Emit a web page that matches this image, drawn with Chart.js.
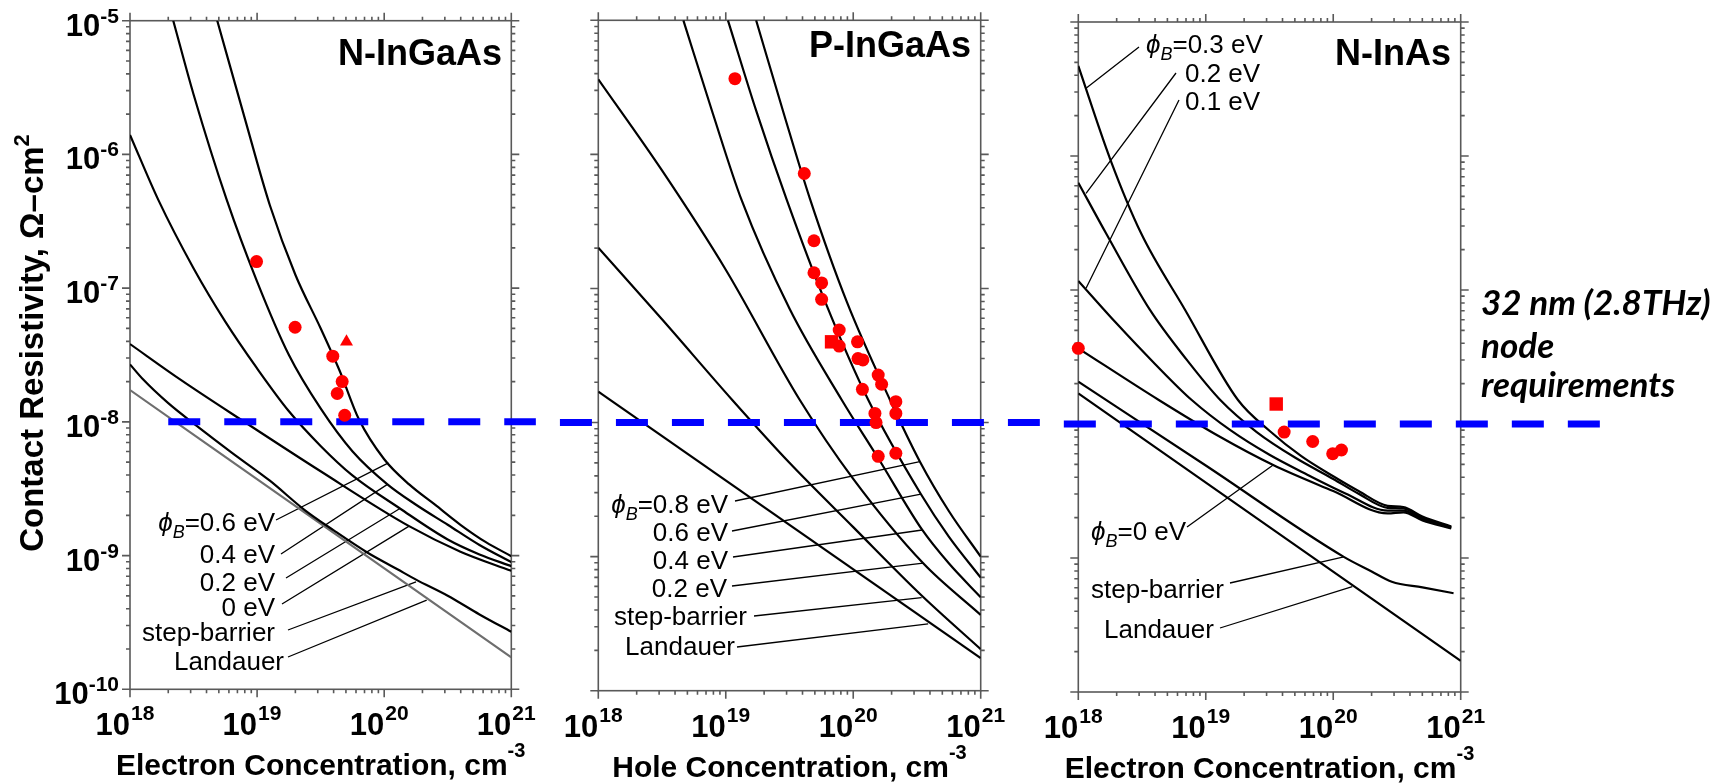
<!DOCTYPE html>
<html>
<head>
<meta charset="utf-8">
<title>Contact resistivity vs. doping</title>
<script src="https://cdn.jsdelivr.net/npm/chart.js@4.4.1/dist/chart.umd.min.js"></script>
<style>
  html, body { margin: 0; padding: 0; background: #ffffff; }
  #stage { position: relative; width: 1730px; height: 783px; overflow: hidden; }
  #stage canvas { position: absolute; left: 0; top: 0; }
</style>
</head>
<body>
<div id="stage">
  <canvas id="panelN" width="1730" height="783"></canvas>
  <canvas id="panelP" width="1730" height="783"></canvas>
  <canvas id="panelAs" width="1730" height="783"></canvas>
</div>
<script>
// Axis tick labels (decades)
var xTickValues = [1e18, 1e19, 1e20, 1e21];
var xTickExps = ['18', '19', '20', '21'];
var yTickValues = [1e-5, 1e-6, 1e-7, 1e-8, 1e-9, 1e-10];
var yTickExps = ['-5', '-6', '-7', '-8', '-9', '-10'];

// 32 nm node requirement, ohm-cm2
var nodeLimit = 1e-8;

// N-InGaAs curves [n (cm-3), rho (ohm-cm2)]
var nIngaasPhi06 = [[4.86e18, 1.0e-5], [7.94e18, 1.91e-6], [1.26e19, 4.17e-7], [2.0e19, 1.26e-7], [3.16e19, 5.01e-8],
    [4.47e19, 2.40e-8], [6.31e19, 1.05e-8], [1.0e20, 5.25e-9], [1.58e20, 3.39e-9], [2.51e20, 2.40e-9],
    [3.98e20, 1.70e-9], [6.31e20, 1.26e-9], [1.0e21, 9.9e-10]];
var nIngaasPhi04 = [[2.19e18, 1.0e-5], [3.16e18, 2.82e-6], [5.77e18, 4.57e-7], [1.0e19, 1.12e-7], [1.78e19, 3.16e-8],
    [3.16e19, 1.26e-8], [5.62e19, 6.03e-9], [1.06e20, 3.41e-9], [1.78e20, 2.40e-9], [3.16e20, 1.70e-9],
    [5.62e20, 1.20e-9], [1.0e21, 8.93e-10]];
var nIngaasPhi02 = [[1.0e18, 1.40e-6], [1.67e18, 4.57e-7], [3.16e18, 1.41e-7], [5.62e18, 5.62e-8], [1.0e19, 2.51e-8],
    [1.78e19, 1.20e-8], [3.16e19, 6.61e-9], [5.62e19, 3.98e-9], [1.33e20, 2.25e-9], [3.16e20, 1.32e-9],
    [5.62e20, 1.02e-9], [1.0e21, 8.34e-10]];
var nIngaasPhi00 = [[1.0e18, 3.82e-8], [2.51e18, 2.06e-8], [7.94e18, 1.0e-8], [3.16e19, 4.27e-9], [1.57e20, 1.66e-9],
    [3.98e20, 1.07e-9], [1.0e21, 7.69e-10]];
var nIngaasStep = [[1.0e18, 2.69e-8], [1.26e18, 2.09e-8], [2.0e18, 1.38e-8], [3.35e18, 9.33e-9], [6.31e18, 5.89e-9],
    [1.26e19, 3.63e-9], [2.34e19, 2.21e-9], [3.98e19, 1.55e-9], [7.41e19, 1.05e-9], [1.26e20, 7.94e-10],
    [1.78e20, 6.61e-10], [3.16e20, 5.01e-10], [5.62e20, 3.63e-10], [1.0e21, 2.69e-10]];
var nIngaasLandauer = [[1.0e18, 1.73e-8], [1.0e21, 1.73e-10]];
var nIngaasMeasured = [[9.9e18, 1.58e-7], [1.99e19, 5.1e-8], [3.94e19, 3.1e-8], [4.67e19, 2.0e-8], [4.27e19, 1.63e-8],
    [4.89e19, 1.12e-8]];
var nIngaasMeasuredTri = [[5.05e19, 3.97e-8]];

// P-InGaAs curves
var pIngaasPhi08 = [[1.73e19, 1.0e-5], [2.82e19, 2.09e-6], [4.57e19, 4.68e-7], [8.91e19, 7.94e-8], [1.94e20, 1.48e-8],
    [3.33e20, 5.13e-9], [5.62e20, 2.19e-9], [1.0e21, 1.0e-9]];
var pIngaasPhi06 = [[1.04e19, 1.0e-5], [1.74e19, 2.09e-6], [3.01e19, 4.57e-7], [6.03e19, 7.94e-8], [1.31e20, 1.48e-8],
    [3.40e20, 2.92e-9], [5.62e20, 1.41e-9], [1.0e21, 6.97e-10]];
var pIngaasPhi04 = [[4.65e18, 1.0e-5], [7.94e18, 2.0e-6], [1.33e19, 4.57e-7], [3.16e19, 7.08e-8], [8.11e19, 1.48e-8],
    [1.58e20, 5.37e-9], [3.48e20, 1.58e-9], [5.62e20, 8.91e-10], [1.0e21, 4.98e-10]];
var pIngaasPhi02 = [[1.0e18, 3.63e-6], [3.16e18, 7.59e-7], [1.0e19, 1.38e-7], [3.80e19, 1.48e-8], [1.0e20, 3.80e-9],
    [3.54e20, 8.91e-10], [1.0e21, 3.67e-10]];
var pIngaasStep = [[1.0e18, 2.01e-7], [3.16e18, 5.89e-8], [1.12e19, 1.48e-8], [3.16e19, 5.01e-9], [1.0e20, 1.66e-9],
    [3.44e20, 5.13e-10], [1.0e21, 2.04e-10]];
var pIngaasLandauer = [[1.0e18, 1.70e-8], [1.0e21, 1.75e-10]];
var pIngaasMeasured = [[1.18e19, 3.67e-6], [4.13e19, 7.2e-7], [4.92e19, 2.27e-7], [4.92e19, 1.31e-7], [5.65e19, 1.10e-7],
    [5.65e19, 8.3e-8], [7.76e19, 4.9e-8], [7.76e19, 3.72e-8], [1.08e20, 4.0e-8], [1.09e20, 3.0e-8],
    [1.19e20, 2.93e-8], [1.57e20, 2.26e-8], [1.67e20, 1.93e-8], [1.18e20, 1.77e-8], [2.16e20, 1.43e-8],
    [2.16e20, 1.17e-8], [1.48e20, 1.17e-8], [1.51e20, 1.0e-8], [1.57e20, 5.6e-9], [2.16e20, 5.9e-9]];
var pIngaasMeasuredSq = [[6.76e19, 4.0e-8]];

// N-InAs curves
var nInasPhi03 = [[1.0e18, 4.70e-6], [1.79e18, 9.33e-7], [3.11e18, 2.65e-7], [6.89e18, 7.10e-8], [1.79e19, 1.51e-8],
    [3.16e19, 8.91e-9], [5.62e19, 5.75e-9], [1.0e20, 4.07e-9], [1.58e20, 3.16e-9], [2.67e20, 2.45e-9],
    [3.55e20, 2.40e-9], [5.01e20, 2.04e-9], [8.43e20, 1.72e-9]];
var nInasPhi02 = [[1.0e18, 6.32e-7], [1.65e18, 2.65e-7], [3.65e18, 7.10e-8], [7.08e18, 3.02e-8], [1.30e19, 1.51e-8],
    [2.51e19, 8.71e-9], [5.01e19, 5.62e-9], [1.0e20, 3.89e-9], [1.58e20, 3.02e-9], [2.67e20, 2.37e-9],
    [3.55e20, 2.34e-9], [5.01e20, 2.0e-9], [8.43e20, 1.70e-9]];
var nInasPhi01 = [[1.0e18, 1.17e-7], [2.0e18, 5.62e-8], [3.98e18, 2.82e-8], [7.76e18, 1.51e-8], [1.58e19, 8.91e-9],
    [3.16e19, 5.89e-9], [6.31e19, 4.17e-9], [1.26e20, 3.02e-9], [2.67e20, 2.26e-9], [3.55e20, 2.26e-9],
    [5.01e20, 1.95e-9], [8.43e20, 1.68e-9]];
var nInasPhi00 = [[1.0e18, 3.67e-8], [4.28e18, 1.51e-8], [1.26e19, 8.13e-9], [3.38e19, 4.94e-9], [1.0e20, 3.16e-9],
    [2.67e20, 2.15e-9], [3.55e20, 2.19e-9], [5.01e20, 1.91e-9], [8.43e20, 1.66e-9]];
var nInasStep = [[1.0e18, 2.07e-8], [1.0e19, 4.90e-9], [1.21e20, 1.02e-9], [2.0e20, 7.94e-10], [2.88e20, 6.65e-10],
    [5.01e20, 6.03e-10], [8.79e20, 5.46e-10]];
var nInasLandauer = [[1.0e18, 1.69e-8], [1.0e21, 1.71e-10]];
var nInasMeasured = [[1.0e18, 3.67e-8], [4.12e19, 8.7e-9], [6.9e19, 7.4e-9], [9.9e19, 6.0e-9], [1.16e20, 6.4e-9]];
var nInasMeasuredSq = [[3.57e19, 1.41e-8]];

// ---- drawing helpers ----
var SANS = '"Liberation Sans", Arial, Helvetica, sans-serif';
var AXIS_COLOR = '#595959';
var F_TICK = 'bold 31px ' + SANS;
var F_TICK_SUP = 'bold 21px ' + SANS;
var F_NOTE = '26px ' + SANS;
var F_NOTE_I = 'italic 26px ' + SANS;
var F_NOTE_SUB = 'italic 18px ' + SANS;

function toXY(points) {
    return points.map(function (p) { return { x: p[0], y: p[1] }; });
}

function curve(points, color) {
    return {
        data: toXY(points), showLine: true, borderColor: color || '#000000', borderWidth: 2.2,
        pointRadius: 0, cubicInterpolationMode: 'monotone', order: 3
    };
}

function markers(points, style, radius) {
    return {
        data: toXY(points), showLine: false, pointStyle: style, pointRadius: radius,
        backgroundColor: '#ff0000', borderColor: '#ff0000', borderWidth: 0, clip: false, order: 1
    };
}

// dashed requirement line; each panel draws its own piece
function guide(nFrom, nTo) {
    return {
        data: toXY([[nFrom, nodeLimit], [nTo, nodeLimit]]), showLine: true, borderColor: '#0000ff',
        borderWidth: 7, borderDash: [32, 24], borderCapStyle: 'butt', pointRadius: 0, clip: false, order: 2
    };
}

// text made of runs: [text, font, dy]
function textRun(ctx, runs, x, y, align) {
    var total = 0, i;
    for (i = 0; i < runs.length; i++) {
        ctx.font = runs[i][1];
        total += ctx.measureText(runs[i][0]).width;
    }
    var cx = x;
    if (align === 'right') cx = x - total;
    if (align === 'center') cx = x - total / 2;
    ctx.textAlign = 'left';
    ctx.textBaseline = 'alphabetic';
    for (i = 0; i < runs.length; i++) {
        ctx.font = runs[i][1];
        ctx.fillText(runs[i][0], cx, y + (runs[i][2] || 0));
        cx += ctx.measureText(runs[i][0]).width;
    }
}

function phi(rest) {
    return [['\u03D5', F_NOTE_I, 0], ['B', F_NOTE_SUB, 7], [rest, F_NOTE, 0]];
}

function plain(text) {
    return [[text, F_NOTE, 0]];
}

// frame with outward major/minor ticks on all four sides
function drawFrame(chart) {
    var ctx = chart.ctx, a = chart.chartArea, xs = chart.scales.x, ys = chart.scales.y;
    ctx.save();
    ctx.strokeStyle = AXIS_COLOR;
    ctx.lineWidth = 1.6;
    ctx.strokeRect(a.left, a.top, a.right - a.left, a.bottom - a.top);
    ctx.beginPath();
    var d, m, v, p, len;
    for (d = 0; d < xTickValues.length; d++) {
        for (m = 1; m < 10; m++) {
            v = xTickValues[d] * m;
            if (v > xTickValues[xTickValues.length - 1] * 1.001) break;
            p = xs.getPixelForValue(v);
            len = m === 1 ? 8 : 4;
            ctx.moveTo(p, a.bottom); ctx.lineTo(p, a.bottom + len);
            ctx.moveTo(p, a.top); ctx.lineTo(p, a.top - len);
        }
    }
    for (d = yTickValues.length - 1; d >= 0; d--) {
        for (m = 1; m < 10; m++) {
            v = yTickValues[d] * m;
            if (v > yTickValues[0] * 1.001) break;
            p = ys.getPixelForValue(v);
            len = m === 1 ? 8 : 4;
            ctx.moveTo(a.left, p); ctx.lineTo(a.left - len, p);
            ctx.moveTo(a.right, p); ctx.lineTo(a.right + len, p);
        }
    }
    ctx.stroke();
    ctx.restore();
}

function drawLeaders(chart, labels) {
    var ctx = chart.ctx, xs = chart.scales.x, ys = chart.scales.y;
    ctx.save();
    ctx.strokeStyle = '#000000';
    ctx.lineWidth = 1.3;
    ctx.beginPath();
    labels.forEach(function (l) {
        ctx.moveTo(l.from[0], l.from[1]);
        ctx.lineTo(xs.getPixelForValue(l.to[0]), ys.getPixelForValue(l.to[1]));
    });
    ctx.stroke();
    ctx.restore();
}

function drawTexts(chart, spec) {
    var ctx = chart.ctx, a = chart.chartArea, xs = chart.scales.x, ys = chart.scales.y;
    ctx.save();
    ctx.fillStyle = '#000000';

    // x tick labels: "10" ends at the tick, exponent starts there
    xTickValues.forEach(function (v, i) {
        var p = xs.getPixelForValue(v);
        textRun(ctx, [['10', F_TICK, 0]], p, a.bottom + 46, 'right');
        textRun(ctx, [[xTickExps[i], F_TICK_SUP, 0]], p + 1, a.bottom + 31, 'left');
    });

    if (spec.yLabels) {
        yTickValues.forEach(function (v, i) {
            var p = ys.getPixelForValue(v);
            textRun(ctx, [['10', F_TICK, 13], [yTickExps[i], F_TICK_SUP, 0]], a.left - 11, p + 2, 'right');
        });
        ctx.save();
        ctx.translate(32, 343);
        ctx.rotate(-Math.PI / 2);
        textRun(ctx, [['Contact Resistivity, \u03A9\u2013cm', 'bold 33px ' + SANS, 0], ['2', 'bold 22px ' + SANS, -14]], 0, 11, 'center');
        ctx.restore();
    }

    // x axis title
    textRun(ctx, [[spec.xTitle, 'bold 30px ' + SANS, 0], ['-3', 'bold 20px ' + SANS, -18]],
        (a.left + a.right) / 2, a.bottom + 86, 'center');

    // panel name
    textRun(ctx, [[spec.name, 'bold 36px ' + SANS, 0]], spec.namePos[0], spec.namePos[1], 'right');

    spec.labels.forEach(function (l) {
        textRun(ctx, l.runs, l.x, l.y, l.align);
    });

    if (spec.note) {
        ctx.font = 'italic 700 35px Lato, "Open Sans", sans-serif';
        ctx.textAlign = 'left';
        spec.note.forEach(function (line) {
            ctx.fillText(line[0], line[1], line[2]);
        });
    }
    ctx.restore();
}

// ---- panels ----
var panels = [
    {
        canvas: 'panelN',
        area: { left: 130, top: 20.7, right: 511.3, bottom: 689.3 },
        yLabels: true,
        xTitle: 'Electron Concentration, cm',
        name: 'N-InGaAs', namePos: [502, 65],
        datasets: [
            markers(nIngaasMeasured, 'circle', 6.5),
            markers(nIngaasMeasuredTri, 'triangle', 7.5),
            guide(2.0e18, 1.56e21),
            curve(nIngaasPhi06), curve(nIngaasPhi04), curve(nIngaasPhi02), curve(nIngaasPhi00),
            curve(nIngaasStep), curve(nIngaasLandauer, '#6e6e6e')
        ],
        labels: [
            { runs: phi('=0.6 eV'), x: 275, y: 531, align: 'right', from: [276, 520], to: [1.08e20, 4.94e-9] },
            { runs: plain('0.4 eV'), x: 275, y: 563, align: 'right', from: [281, 554], to: [1.06e20, 3.41e-9] },
            { runs: plain('0.2 eV'), x: 275, y: 591, align: 'right', from: [286, 578], to: [1.33e20, 2.25e-9] },
            { runs: plain('0 eV'), x: 275, y: 616, align: 'right', from: [282, 604], to: [1.57e20, 1.66e-9] },
            { runs: plain('step-barrier'), x: 275, y: 641, align: 'right', from: [288, 630], to: [1.78e20, 6.37e-10] },
            { runs: plain('Landauer'), x: 284, y: 670, align: 'right', from: [288, 657], to: [2.16e20, 4.65e-10] }
        ]
    },
    {
        canvas: 'panelP',
        area: { left: 598.3, top: 20.3, right: 980.7, bottom: 690.7 },
        yLabels: false,
        xTitle: 'Hole Concentration, cm',
        name: 'P-InGaAs', namePos: [971, 57],
        datasets: [
            markers(pIngaasMeasured, 'circle', 6.5),
            markers(pIngaasMeasuredSq, 'rect', 9.5),
            guide(5.0e17, 2.91e21),
            curve(pIngaasPhi08), curve(pIngaasPhi06), curve(pIngaasPhi04), curve(pIngaasPhi02),
            curve(pIngaasStep), curve(pIngaasLandauer)
        ],
        labels: [
            { runs: phi('=0.8 eV'), x: 728, y: 513, align: 'right', from: [735, 501], to: [3.33e20, 5.12e-9] },
            { runs: plain('0.6 eV'), x: 728, y: 541, align: 'right', from: [732, 531], to: [3.40e20, 2.92e-9] },
            { runs: plain('0.4 eV'), x: 728, y: 569, align: 'right', from: [733, 557], to: [3.48e20, 1.58e-9] },
            { runs: plain('0.2 eV'), x: 727, y: 597, align: 'right', from: [732, 586], to: [3.54e20, 8.93e-10] },
            { runs: plain('step-barrier'), x: 747, y: 625, align: 'right', from: [754, 616], to: [3.44e20, 4.94e-10] },
            { runs: plain('Landauer'), x: 735, y: 655, align: 'right', from: [737, 647], to: [3.87e20, 3.15e-10] }
        ]
    },
    {
        canvas: 'panelAs',
        area: { left: 1078.3, top: 22, right: 1460.7, bottom: 692 },
        yLabels: false,
        xTitle: 'Electron Concentration, cm',
        name: 'N-InAs', namePos: [1451, 65],
        datasets: [
            markers(nInasMeasured, 'circle', 6.5),
            markers(nInasMeasuredSq, 'rect', 9.5),
            guide(7.7e17, 1.24e22),
            curve(nInasPhi03), curve(nInasPhi02), curve(nInasPhi01), curve(nInasPhi00),
            curve(nInasStep), curve(nInasLandauer)
        ],
        labels: [
            { runs: phi('=0.3 eV'), x: 1146, y: 53, align: 'left', from: [1139, 47], to: [1.15e18, 3.20e-6] },
            { runs: plain('0.2 eV'), x: 1185, y: 82, align: 'left', from: [1176, 73], to: [1.15e18, 5.27e-7] },
            { runs: plain('0.1 eV'), x: 1185, y: 110, align: 'left', from: [1179, 100], to: [1.15e18, 1.03e-7] },
            { runs: phi('=0 eV'), x: 1091, y: 540, align: 'left', from: [1187, 527], to: [3.38e19, 4.94e-9] },
            { runs: plain('step-barrier'), x: 1091, y: 598, align: 'left', from: [1230, 583], to: [1.21e20, 1.02e-9] },
            { runs: plain('Landauer'), x: 1104, y: 638, align: 'left', from: [1220, 628], to: [1.41e20, 6.11e-10] }
        ],
        note: [['32 nm (2.8THz)', 1481, 315], ['node', 1481, 358], ['requirements', 1481, 397]]
    }
];

panels.forEach(function (spec) {
    var a = spec.area;
    var decor = {
        id: 'decor',
        beforeDatasetsDraw: function (chart) {
            drawFrame(chart);
            drawLeaders(chart, spec.labels);
        },
        afterDatasetsDraw: function (chart) {
            drawTexts(chart, spec);
        }
    };
    new Chart(document.getElementById(spec.canvas).getContext('2d'), {
        type: 'scatter',
        data: { datasets: spec.datasets },
        options: {
            responsive: false,
            animation: false,
            devicePixelRatio: 1,
            events: [],
            layout: { padding: { left: a.left, top: a.top, right: 1730 - a.right, bottom: 783 - a.bottom } },
            scales: {
                x: { type: 'logarithmic', min: 1e18, max: 1e21, display: false },
                y: { type: 'logarithmic', min: 1e-10, max: 1e-5, display: false }
            },
            plugins: { legend: { display: false }, tooltip: { enabled: false } }
        },
        plugins: [decor]
    });
});
</script>
</body>
</html>
